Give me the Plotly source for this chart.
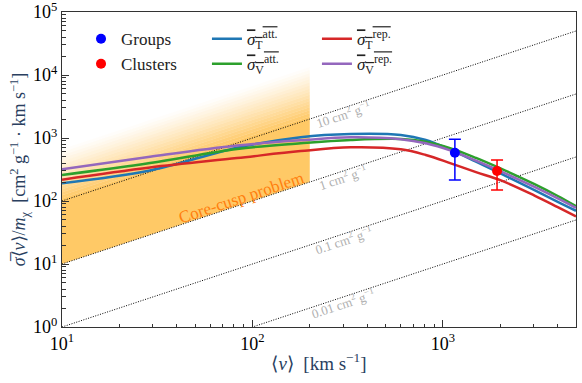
import numpy as np
import plotly.graph_objects as go

v_curve = [10, 29, 83, 179, 328, 601, 813, 1101, 1492, 2018, 3027, 4010, 5000]
sig_T_att = [192, 305, 700, 1030, 1157, 1116, 930, 646, 420, 271, 149, 97, 70]
sig_V_att = [258, 400, 670, 823, 930, 965, 875, 686, 483, 326, 185, 120, 83]
sig_T_rep = [218, 340, 480, 620, 711, 661, 537, 396, 288, 212, 122, 80, 57]
sig_V_rep = [320, 505, 760, 920, 1025, 955, 823, 630, 437, 295, 167, 110, 78]

# data points: groups and clusters
groups_v = [1156]
groups_y = [585]
groups_hi = [955]
groups_lo = [215]
clusters_v = [1925]
clusters_y = [299]
clusters_hi = [447]
clusters_lo = [150]

# constant sigma/m reference lines (cm^2/g)
const_sm = [10, 1, 0.1, 0.01]
const_labels = ["10", "1", "0.1", "0.01"]
label_v = 300

# core-cusp band
band_v = [10, 200]
band_low = 1

FONT = "Liberation Serif, Times New Roman, serif"
v_range = [10, 5000]

fig = go.Figure()

# --- core-cusp band with a faded top ---------------------------------------
levels = [band_low] + list(np.logspace(np.log10(11), np.log10(75), 18))
fig.add_trace(go.Scatter(x=band_v, y=[band_low * v for v in band_v], mode="lines",
                         line=dict(width=0), showlegend=False, hoverinfo="skip"))
n = len(levels) - 1
for i in range(1, len(levels)):
    alpha = 0.6 if i == 1 else 0.6 * (1 - (i - 1) / (n - 1)) ** 1.2
    fig.add_trace(go.Scatter(x=band_v, y=[levels[i] * v for v in band_v], mode="lines",
                             line=dict(width=0), fill="tonexty",
                             fillcolor=f"rgba(255,165,0,{alpha:.3f})",
                             showlegend=False, hoverinfo="skip"))

# --- constant cross-section lines ------------------------------------------
for k in const_sm:
    fig.add_trace(go.Scatter(x=v_range, y=[k * v for v in v_range], mode="lines",
                             line=dict(color="black", width=1, dash="1px,1.5px"),
                             showlegend=False, hoverinfo="skip"))

angle = -np.degrees(np.arctan(63 / 190))
for k, lab in zip(const_sm, const_labels):
    fig.add_annotation(x=np.log10(label_v), y=np.log10(k * label_v), yshift=-6,
                       text=f"{lab} cm<sup>2</sup> g<sup>−1</sup>", showarrow=False,
                       textangle=angle, font=dict(family=FONT, size=13, color="#b0b0b0"))

fig.add_annotation(x=np.log10(88), y=np.log10(112), text="Core-cusp problem", showarrow=False,
                   textangle=angle, font=dict(family=FONT, size=17, color="#ff7f0e"))

# --- model curves ----------------------------------------------------------
def ol(sub, sup):
    return f"<span style='text-decoration:overline'><i>σ</i><sub>{sub}</sub><sup>{sup}</sup></span>"

curves = [
    (sig_T_att, "#1f77b4", ol("T", "att."), "legend2"),
    (sig_V_att, "#2ca02c", ol("V", "att."), "legend2"),
    (sig_T_rep, "#d62728", ol("T", "rep."), "legend3"),
    (sig_V_rep, "#9467bd", ol("V", "rep."), "legend3"),
]
for ys, col, name, leg in curves:
    fig.add_trace(go.Scatter(x=v_curve, y=ys, mode="lines", name=name, legend=leg,
                             line=dict(color=col, width=2.5, shape="spline", smoothing=1.0)))

# --- data points -----------------------------------------------------------
for vs, ys, hi, lo, col, name in [
    (groups_v, groups_y, groups_hi, groups_lo, "blue", "Groups"),
    (clusters_v, clusters_y, clusters_hi, clusters_lo, "red", "Clusters"),
]:
    fig.add_trace(go.Scatter(
        x=vs, y=ys, mode="markers", name=name, legend="legend",
        marker=dict(color=col, size=10),
        error_y=dict(type="data", symmetric=False,
                     array=[h - y for h, y in zip(hi, ys)],
                     arrayminus=[y - l for l, y in zip(lo, ys)],
                     color=col, thickness=1.5, width=6),
    ))

minor_vals = [m * 10 ** e for e in range(0, 5) for m in range(2, 10)]
tick_font = dict(family=FONT, size=18, color="black")
axis_common = dict(type="log", ticks="inside", ticklen=7, tickwidth=1, tickcolor="#333",
                   showline=True, linecolor="#333", linewidth=1, mirror=True,
                   showgrid=False, zeroline=False, tickfont=tick_font, automargin=False,
                   ticklabeloverflow="allow",
                   minor=dict(ticks="inside", ticklen=3.5, tickwidth=0.8, tickcolor="#333",
                              tickvals=minor_vals, showgrid=False))

fig.update_xaxes(range=[1, np.log10(5000)], tickvals=[10, 100, 1000],
                 ticktext=["10<sup>1</sup>", "10<sup>2</sup>", "10<sup>3</sup>"],
                 title=dict(text="⟨<i>v</i>⟩  [km s<sup>−1</sup>]",
                            font=dict(family=FONT, size=19), standoff=4),
                 **axis_common)
fig.update_yaxes(range=[0, 5.0001], tickvals=[1, 10, 100, 1000, 1e4, 1e5],
                 ticktext=[f"10<sup>{i}</sup>" for i in range(6)],
                 title=dict(text="<i>σ̅</i>⟨<i>v</i>⟩/<i>m</i><sub>χ</sub>  [cm<sup>2</sup> g<sup>−1</sup> · km s<sup>−1</sup>]",
                            font=dict(family=FONT, size=18), standoff=2),
                 **axis_common)

leg_common = dict(orientation="v", yanchor="top", y=0.971, bgcolor="rgba(0,0,0,0)",
                  traceorder="normal",
                  font=dict(family=FONT, size=17, color="#222"), tracegroupgap=0)
fig.update_layout(
    width=582, height=383, template="plotly_white",
    plot_bgcolor="white", paper_bgcolor="white",
    margin=dict(l=62, r=6, t=12, b=56),
    legend=dict(x=0.037, **leg_common),
    legend2=dict(x=0.282, **leg_common),
    legend3=dict(x=0.496, **leg_common),
    font=dict(family=FONT),
)

# the page body has a default margin; drop it so the figure sits at the corner
fig.write_html("out.html", config={"displayModeBar": False},
               post_script="document.body.style.margin='0px';")
